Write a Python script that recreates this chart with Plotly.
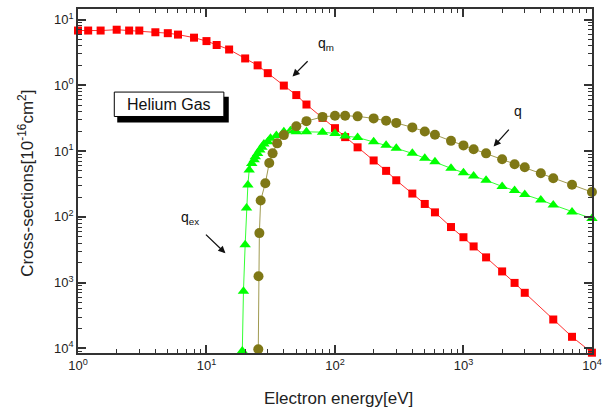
import plotly.graph_objects as go

# ---- data ----
red_x = [1, 1.2, 1.5, 2, 2.5, 3, 4, 5, 6, 8, 10, 12, 15, 20, 25, 30, 40, 50, 60, 80,
         100, 120, 150, 200, 250, 300, 400, 500, 600, 800, 1000, 1200, 1500, 2000,
         2500, 3000, 5000, 7000, 10000]
red_y = [6.8, 6.8, 6.8, 7.0, 6.8, 6.8, 6.4, 6.2, 5.9, 5.3, 4.7, 4.1, 3.5, 2.56, 2.01,
         1.53, 0.99, 0.71, 0.51, 0.32, 0.223, 0.163, 0.114, 0.072, 0.050, 0.036,
         0.0226, 0.0157, 0.0117, 0.0070, 0.0049, 0.00355, 0.00242, 0.00148, 0.00099,
         0.00070, 0.000275, 0.000150, 0.000086]

green_x = [19.0, 19.4, 20, 20.5, 21, 21.5, 22.5, 23.5, 24, 25, 26, 27, 28, 30, 31.5, 35,
           40, 45, 50, 60, 80, 100, 120, 150, 200, 250, 300, 400, 500, 600, 800, 1000,
           1200, 1500, 2000, 2500, 3000, 4000, 5000, 7000, 10000]
green_y = [9.1e-5, 7.4e-4, 3.77e-3, 0.0136, 0.0305, 0.0515, 0.065, 0.074, 0.082, 0.092,
           0.104, 0.114, 0.128, 0.138, 0.156, 0.172, 0.196, 0.203, 0.196, 0.196, 0.194,
           0.185, 0.169, 0.161, 0.139, 0.123, 0.110, 0.0923, 0.0775, 0.0689, 0.0547,
           0.0469, 0.0418, 0.036, 0.029, 0.0252, 0.0218, 0.0181, 0.0152, 0.0119, 0.0094]

olive_x = [25.3, 25.4, 25.8, 26.4, 28.7, 30.8, 32.7, 35.5, 40, 50, 60, 80, 100, 120, 150,
           200, 250, 300, 400, 500, 600, 800, 1000, 1200, 1500, 2000, 2500, 3000, 4000,
           5000, 7000, 10000]
olive_y = [9.7e-5, 1.25e-3, 5.66e-3, 0.0177, 0.0324, 0.0658, 0.0923, 0.131, 0.175, 0.239,
           0.285, 0.331, 0.345, 0.345, 0.337, 0.314, 0.290, 0.268, 0.229, 0.199, 0.177,
           0.143, 0.122, 0.1065, 0.0923, 0.0749, 0.0631, 0.0569, 0.0459, 0.0386, 0.0308,
           0.0238]

x_tickvals = [1, 10, 100, 1000, 10000]
x_ticktext = ["10<sup>0</sup>", "10<sup>1</sup>", "10<sup>2</sup>", "10<sup>3</sup>", "10<sup>4</sup>"]
y_tickvals = [10, 1, 0.1, 0.01, 0.001, 0.0001]
y_ticktext = ["10<sup>1</sup>", "10<sup>0</sup>", "10<sup>1</sup>", "10<sup>2</sup>",
              "10<sup>3</sup>", "10<sup>4</sup>"]

FONT = "Liberation Sans, Arial, sans-serif"
AX = "#333333"

fig = go.Figure()
fig.add_trace(go.Scatter(x=red_x, y=red_y, mode="lines+markers", cliponaxis=False,
                         line=dict(color="#ff3030", width=1),
                         marker=dict(symbol="square", size=8, color="#ff0000")))
fig.add_trace(go.Scatter(x=green_x, y=green_y, mode="lines+markers", cliponaxis=False,
                         line=dict(color="#33ff33", width=1),
                         marker=dict(symbol="triangle-up", size=10, color="#00ff00")))
fig.add_trace(go.Scatter(x=olive_x, y=olive_y, mode="lines+markers", cliponaxis=False,
                         line=dict(color="#a09a50", width=1),
                         marker=dict(symbol="circle", size=10, color="#7f7816")))

axis_common = dict(type="log", showgrid=False, zeroline=False, showline=True,
                   linecolor=AX, linewidth=1.5, mirror="ticks", ticks="inside",
                   ticklen=8, tickwidth=1.5, tickcolor=AX, ticklabeloverflow="allow",
                   tickfont=dict(family=FONT, size=13, color="#222"),
                   minor=dict(ticks="inside", ticklen=4, tickwidth=1, tickcolor=AX,
                              showgrid=False, dtick="D1"))

fig.update_xaxes(**axis_common, range=[0, 4.0005], tickmode="array",
                 tickvals=x_tickvals, ticktext=x_ticktext)
fig.update_yaxes(**axis_common, range=[-4.07, 1.16], tickmode="array",
                 tickvals=y_tickvals, ticktext=y_ticktext)

def px(x):
    return (x - 78) / 524.0

def py(y):
    return (353 - y) / 343.7

shapes = [
    dict(type="rect", xref="paper", yref="paper", x0=px(118), x1=px(231.7),
         y0=py(122.7), y1=py(97), fillcolor="black", line=dict(width=0)),
    dict(type="rect", xref="paper", yref="paper", x0=px(115), x1=px(226.7),
         y0=py(116.7), y1=py(92.3), fillcolor="white", line=dict(color="black", width=1)),
]

ann = [
    dict(text="Helium Gas", x=px(171), y=py(104.5), showarrow=False,
         font=dict(family=FONT, size=16, color="#111")),
    dict(text="q<sub>m</sub>", x=px(331), y=py(44), showarrow=False,
         font=dict(family=FONT, size=14, color="#111")),
    dict(text="q", x=px(527), y=py(111), showarrow=False,
         font=dict(family=FONT, size=14, color="#111")),
    dict(text="q<sub>ex</sub>", x=px(192), y=py(218), showarrow=False,
         font=dict(family=FONT, size=14, color="#111")),
    dict(text="", x=px(296.7), y=py(76.7), ax=16.6, ay=-16.7, showarrow=True,
         arrowhead=2, arrowsize=1.1, arrowwidth=1.3, arrowcolor="#111"),
    dict(text="", x=px(501.7), y=py(146.7), ax=16.6, ay=-18.4, showarrow=True,
         arrowhead=2, arrowsize=1.1, arrowwidth=1.3, arrowcolor="#111"),
    dict(text="", x=px(228.3), y=py(253.3), ax=-21, ay=-20, showarrow=True,
         arrowhead=2, arrowsize=1.1, arrowwidth=1.3, arrowcolor="#111"),
    dict(text="Electron energy[eV]", x=px(344), y=py(398), showarrow=False,
         font=dict(family=FONT, size=17, color="#222")),
    dict(text="Cross-sections[10<sup>-16</sup>cm<sup>2</sup>]", x=px(25), y=py(184),
         showarrow=False, textangle=-90, font=dict(family=FONT, size=17, color="#222")),
]
for a in ann:
    a.setdefault("xref", "paper")
    a.setdefault("yref", "paper")
    a.setdefault("xanchor", "center")
    a.setdefault("yanchor", "middle")

fig.update_layout(width=609, height=412, margin=dict(l=78, r=7, t=9, b=59, pad=0),
                  paper_bgcolor="white", plot_bgcolor="white", showlegend=False,
                  shapes=shapes, annotations=ann,
                  font=dict(family=FONT, color="#222"))

fig.write_html("out.html", config={"displayModeBar": False},
               post_script="document.body.style.margin='0px';document.body.style.overflow='hidden';")
